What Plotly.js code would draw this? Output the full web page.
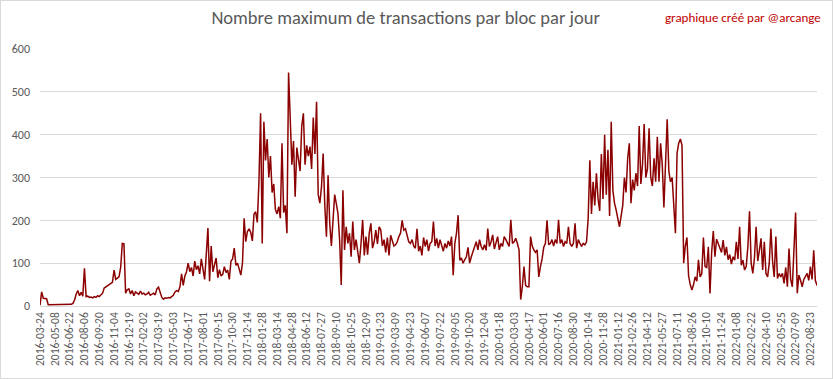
<!DOCTYPE html>
<html><head><meta charset="utf-8">
<script src="https://cdn.plot.ly/plotly-3.0.1.min.js"></script>
<style>
html,body{margin:0;padding:0;background:#fff;}
#wrap{position:relative;width:833px;height:379px;overflow:hidden;}
#chart{position:absolute;left:0;top:0;width:833px;height:379px;}
#frame{position:absolute;left:0;top:0;width:831px;height:377px;border:1px solid #d9d9d9;pointer-events:none;}
</style>
</head><body>
<div id="wrap"><div id="chart"></div><div id="frame"></div></div>
<script>
// Category labels shown on the x axis (one every 45 daily categories)
const tickLabels = ["2016-03-24","2016-05-08","2016-06-22","2016-08-06","2016-09-20","2016-11-04","2016-12-19",
"2017-02-02","2017-03-19","2017-05-03","2017-06-17","2017-08-01","2017-09-15","2017-10-30","2017-12-14",
"2018-01-28","2018-03-14","2018-04-28","2018-06-12","2018-07-27","2018-09-10","2018-10-25","2018-12-09",
"2019-01-23","2019-03-09","2019-04-23","2019-06-07","2019-07-22","2019-09-05","2019-10-20","2019-12-04",
"2020-01-18","2020-03-03","2020-04-17","2020-06-01","2020-07-16","2020-08-30","2020-10-14","2020-11-28",
"2021-01-12","2021-02-26","2021-04-12","2021-05-27","2021-07-11","2021-08-26","2021-10-10","2021-11-24",
"2022-01-08","2022-02-22","2022-04-10","2022-05-25","2022-07-09","2022-08-23"];
const tickEvery = 45;   // categories between labels
const dayStep = 5;      // readings taken every 5 days

// Max transactions per block per day (readings, one every 5 days)
const vals2016 = [2,33,18,17,17,3,3,3,3, 4,4,4,4,4,4,4,4,4, 4,4,6,14,28,36,24,32,23,
  88,22,23,20,21,19,22,20,24, 22,25,30,42,45,48,50,53,55, 84,62,65,68,90,146,145,30,38,
  40,28,36,24,33,30,27,35,28];
const vals2017 = [30,26,28,32,25,28,30,26,40, 44,30,20,16,19,18,20,19,22, 25,33,36,34,45,75,48,70,80,
  100,80,90,70,105,85,94,75,110, 84,62,120,182,58,140,80,100,112, 66,85,70,74,92,78,84,62,105,
  110,135,95,100,85,72,100,205,150, 174,180,172,152,215,220,195,290,450];
const vals2018 = [146,430,340,390,300,350,265,285,225, 215,232,205,380,218,235,170,545,440,
  330,385,255,370,345,315,420,450,330, 375,350,372,320,440,355,477,260,240,
  278,356,235,162,305,193,140,210,260, 239,216,155,49,270,131,185,146,170,
  115,197,131,155,128,100,146,201,118, 162,120,170,193,135,150,177,145,185];
const vals2019 = [178,140,155,125,160,118,165,150,140, 143,150,162,170,200,177,180,165,150,
  146,155,140,135,180,128,140,118,160, 139,155,128,146,150,197,140,158,135,
  155,140,128,146,135,152,140,162,72, 146,170,212,107,112,100,108,115,137,
  100,115,127,143,150,131,155,139,131, 143,130,181,139,150,166,133,146,162];
const vals2020 = [131,146,139,162,155,146,139,201,146, 150,158,146,131,15,45,92,48,45,
  45,162,140,131,125,131,68,92,110, 137,146,200,143,146,155,140,155,146,
  201,146,155,139,150,146,185,146,139, 146,193,135,155,146,139,146,143,150,
  205,340,215,290,235,310,250,222,355, 250,400,260,365,210,430,270,240,224];
const vals2021 = [200,185,210,235,300,265,345,380,240, 295,270,310,280,420,285,330,425,300,
  320,415,300,280,345,290,395,290,380, 330,230,340,436,315,290,300,230,170,
  357,380,390,375,100,140,160,70,50, 37,50,68,58,108,68,75,160,92,
  90,138,29,125,175,115,156,146,135, 125,154,118,138,108,120,98,115,107];
const vals2022 = [150,110,185,95,107,84,92,138,221, 100,76,112,185,105,130,158,84,150,
  76,68,100,181,105,68,162,64,76, 68,76,53,90,45,134,62,45,127,
  218,30,72,60,45,62,68,76,60, 92,62,130,60,48];

const values = [].concat(vals2016, vals2017, vals2018, vals2019, vals2020, vals2021, vals2022);
const dayIndex = values.map((_, i) => i * dayStep);
const tickPos = tickLabels.map((_, j) => j * tickEvery);

const FONT = "Carlito, Calibri, Lato, sans-serif";

Plotly.newPlot('chart', [{
  x: dayIndex, y: values, type: 'scatter', mode: 'lines',
  line: {color: '#8b0000', width: 1.5}, hoverinfo: 'skip'
}], {
  width: 833, height: 379,
  margin: {l: 40, r: 16, t: 49, b: 73},
  paper_bgcolor: '#ffffff', plot_bgcolor: '#ffffff',
  showlegend: false,
  title: {text: 'Nombre maximum de transactions par bloc par jour',
    font: {family: FONT, size: 18.5, color: '#595959'},
    xref: 'container', x: 0.487, xanchor: 'center',
    yref: 'container', y: 0.955, yanchor: 'middle'},
  xaxis: {range: [0, 2360], tickmode: 'array', tickvals: tickPos, ticktext: tickLabels,
    tickangle: -90, tickfont: {family: FONT, size: 11.5, color: '#595959'},
    showgrid: false, zeroline: false, showline: false, ticks: '', ticklabelstandoff: 3,
    fixedrange: true},
  yaxis: {range: [0, 600], dtick: 100, tick0: 0, gridcolor: '#d9d9d9', gridwidth: 1,
    zeroline: true, zerolinecolor: '#d9d9d9', zerolinewidth: 1, showline: false, ticks: '',
    tickfont: {family: FONT, size: 12, color: '#595959'}, ticklabelstandoff: 9, fixedrange: true},
  annotations: [{text: 'graphique créé par @arcange', xref: 'paper', yref: 'paper',
    x: 1.0077, y: 1.1245, xanchor: 'right', yanchor: 'middle', showarrow: false,
    font: {family: FONT, size: 13, color: '#c00000'}}]
}, {staticPlot: true});
</script>
</body></html>
